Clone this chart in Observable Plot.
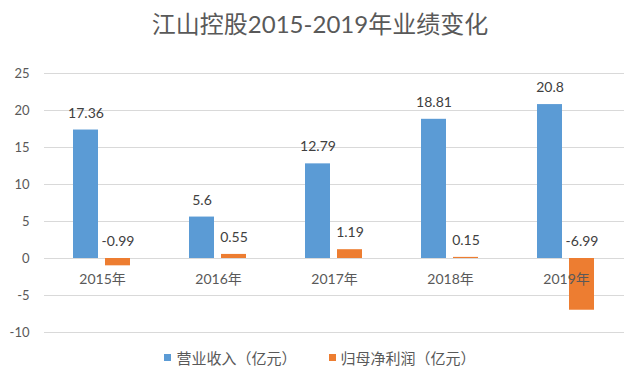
<!DOCTYPE html>
<html>
<head>
<meta charset="utf-8">
<script src="https://cdn.jsdelivr.net/npm/d3@7"></script>
<script src="https://cdn.jsdelivr.net/npm/@observablehq/plot@0.6"></script>
<style>
  body { margin: 0; background: #fff; font-family: Lato, "Noto Sans CJK SC", sans-serif; }
  #wrap { width: 640px; height: 378px; position: relative; overflow: hidden; }
  #title { height: 50px; line-height: 47px; text-align: center; font-size: 24px; color: #595959; font-family: Lato, "Noto Sans CJK SC", sans-serif; }
  #chart svg { display: block; }
  #legend { display: flex; justify-content: center; align-items: center; gap: 32px; height: 15px; line-height: 15px; font-size: 15px; color: #595959; font-family: "Noto Sans CJK SC", sans-serif; }
  .item { display: flex; align-items: center; }
  .sw { width: 7px; height: 7px; margin-right: 5px; display: inline-block; }
</style>
</head>
<body>
<div id="wrap">
  <div id="title">江山控股2015-2019年业绩变化</div>
  <div id="chart"></div>
  <div id="legend"></div>
</div>
<script>
const years = ["2015年", "2016年", "2017年", "2018年", "2019年"];
const seriesNames = ["营业收入（亿元）", "归母净利润（亿元）"];
const revenue = [17.36, 5.6, 12.79, 18.81, 20.8];
const netProfit = [-0.99, 0.55, 1.19, 0.15, -6.99];
const colors = ["#5B9BD5", "#ED7D31"];
const yTicks = [-10, -5, 0, 5, 10, 15, 20, 25];

const data = [];
years.forEach((y, i) => {
  data.push({year: y, series: seriesNames[0], value: revenue[i]});
  data.push({year: y, series: seriesNames[1], value: netProfit[i]});
});

const chart = Plot.plot({
  width: 640,
  height: 300,
  marginLeft: 43,
  marginRight: 15,
  marginTop: 23,
  marginBottom: 18,
  style: {fontFamily: 'Lato, "Noto Sans CJK SC", sans-serif', background: "#fff"},
  fx: {domain: years, padding: 0, axis: null, label: null},
  x: {domain: seriesNames, paddingInner: 0.21, paddingOuter: 0.87, axis: null},
  y: {domain: [-10, 25], ticks: yTicks, tickSize: 0, tickPadding: 15, label: null, tickFormat: d => String(d)},
  color: {domain: seriesNames, range: colors},
  marks: [
    Plot.ruleY(yTicks, {stroke: "#D9D9D9", strokeWidth: 1}),
    Plot.axisY({ticks: yTicks, tickSize: 0, tickPadding: 15, label: null, fontSize: 13, color: "#595959", tickFormat: d => String(d)}),
    Plot.barY(data, {fx: "year", x: "series", y: "value", fill: "series"}),
    Plot.text(years, {fx: d => d, y: () => 0, text: d => d, dy: 21, fontSize: 14, fill: "#595959", frameAnchor: "middle"}),
    Plot.text(data, {fx: "year", x: "series", y: d => Math.max(d.value, 0), text: d => String(d.value), dy: -17, fontSize: 14, fill: "#404040"})
  ]
});
document.getElementById("chart").appendChild(chart);

const legend = document.getElementById("legend");
seriesNames.forEach((s, i) => {
  const item = document.createElement("div");
  item.className = "item";
  const sw = document.createElement("span");
  sw.className = "sw";
  sw.style.background = colors[i];
  const t = document.createElement("span");
  t.textContent = s;
  item.appendChild(sw);
  item.appendChild(t);
  legend.appendChild(item);
});
</script>
</body>
</html>
